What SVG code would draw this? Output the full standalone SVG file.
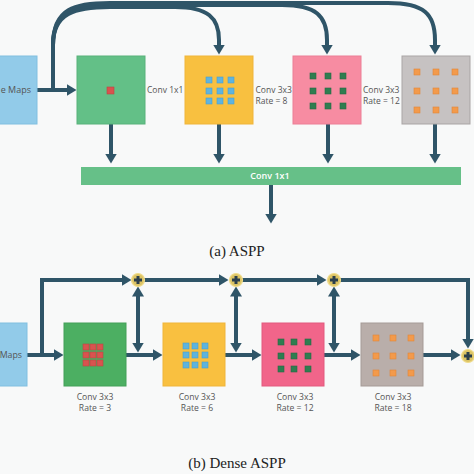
<svg xmlns="http://www.w3.org/2000/svg" width="474" height="474" viewBox="0 0 474 474">
<defs>
<style>
.ln{fill:none;stroke:#2f5568;stroke-width:4;stroke-linejoin:miter}
.lbl{font-family:"Open Sans","DejaVu Sans",sans-serif;font-size:8.5px;fill:#555}
.lbl2{font-family:"Open Sans","DejaVu Sans",sans-serif;font-size:8.6px;fill:#555;text-anchor:middle}
.cap{font-family:"Liberation Serif","Times New Roman",serif;font-size:15px;fill:#222;text-anchor:middle}
.plus{fill:#dcc465;stroke:#f0dc8c;stroke-width:1.2}
.pl{stroke:#2b3f4c;stroke-width:3}
.sq-r{fill:#d9534f;stroke:#b84642;stroke-width:0.6}
.sq-b{fill:#5fb4df;stroke:#4a9fcb;stroke-width:0.6}
.sq-g{fill:#2f7d50;stroke:#276a43;stroke-width:0.6}
.sq-o{fill:#f39a4b;stroke:#e0863a;stroke-width:0.6}
</style>
<marker id="ah" markerUnits="userSpaceOnUse" markerWidth="11" markerHeight="12" refX="0.5" refY="6" orient="auto-start-reverse">
<path d="M0,0 L10,6 L0,12 z" fill="#2f5568"/>
</marker>
</defs>
<rect width="474" height="474" fill="#f8f9f9"/>

<g id="connectors">
<!-- ASPP -->
<path class="ln" d="M37,90 H67" marker-end="url(#ah)"/>
<path class="ln" d="M53,92 V45 C53,13 75,7 110,7 H175 C208,7 219,18 219,40 V45" marker-end="url(#ah)"/>
<path class="ln" d="M53,92 V45 C53,10 75,5 110,5 H282 C316,5 327,16 327,40 V45" marker-end="url(#ah)"/>
<path class="ln" d="M53,92 V45 C53,8 75,3 110,3 H388 C424,3 435,14 435,40 V45" marker-end="url(#ah)"/>
<path class="ln" d="M111,124 V154" marker-end="url(#ah)"/>
<path class="ln" d="M219,124 V154" marker-end="url(#ah)"/>
<path class="ln" d="M328,124 V154" marker-end="url(#ah)"/>
<path class="ln" d="M435,124 V154" marker-end="url(#ah)"/>
<path class="ln" d="M271,185 V214" marker-end="url(#ah)"/>
<!-- Dense ASPP -->
<path class="ln" d="M27,355 H54" marker-end="url(#ah)"/>
<path class="ln" d="M42,357 V280 H122" marker-end="url(#ah)"/>
<path class="ln" d="M126,355 H153" marker-end="url(#ah)"/>
<path class="ln" d="M225,355 H252" marker-end="url(#ah)"/>
<path class="ln" d="M324,355 H351" marker-end="url(#ah)"/>
<path class="ln" d="M423,355 H451" marker-end="url(#ah)"/>
<path class="ln" d="M138,296 V343" marker-start="url(#ah)" marker-end="url(#ah)"/>
<path class="ln" d="M236,296 V343" marker-start="url(#ah)" marker-end="url(#ah)"/>
<path class="ln" d="M334,296 V343" marker-start="url(#ah)" marker-end="url(#ah)"/>
<path class="ln" d="M144,280 H219" marker-end="url(#ah)"/>
<path class="ln" d="M242,280 H317" marker-end="url(#ah)"/>
<path class="ln" d="M340,280 H468 V339" marker-end="url(#ah)"/>
</g>

<!-- ASPP nodes -->
<g id="a-input">
<rect x="-2" y="56" width="39" height="68" fill="#92cbe9" stroke="#80bfe0" stroke-width="1"/>
<text class="lbl" x="31" y="93" text-anchor="end" style="font-size:9px">e Maps</text>
</g>
<g id="a-conv1x1">
<rect x="77" y="56" width="68" height="68" fill="#63c087" stroke="#58b27b" stroke-width="1"/>
<rect class="sq-r" x="107" y="87" width="7" height="7" fill="#e06060"/>
<text class="lbl" x="147" y="93">Conv 1x1</text>
</g>
<g id="a-rate8">
<rect x="185" y="56" width="68" height="68" fill="#f8c040" stroke="#efb53a" stroke-width="1"/>
<g class="sq-b">
<rect x="206" y="77" width="6" height="6"/><rect x="217" y="77" width="6" height="6"/><rect x="228" y="77" width="6" height="6"/>
<rect x="206" y="88" width="6" height="6"/><rect x="217" y="88" width="6" height="6"/><rect x="228" y="88" width="6" height="6"/>
<rect x="206" y="98" width="6" height="6"/><rect x="217" y="98" width="6" height="6"/><rect x="228" y="98" width="6" height="6"/>
</g>
<text class="lbl" x="255.5" y="93">Conv 3x3</text>
<text class="lbl" x="255.5" y="104">Rate = 8</text>
</g>
<g id="a-rate12">
<rect x="293" y="56" width="68" height="68" fill="#f78ca2" stroke="#ec7f96" stroke-width="1"/>
<g class="sq-g">
<rect x="310" y="73" width="6" height="6"/><rect x="325" y="73" width="6" height="6"/><rect x="340" y="73" width="6" height="6"/>
<rect x="310" y="88" width="6" height="6"/><rect x="325" y="88" width="6" height="6"/><rect x="340" y="88" width="6" height="6"/>
<rect x="310" y="103" width="6" height="6"/><rect x="325" y="103" width="6" height="6"/><rect x="340" y="103" width="6" height="6"/>
</g>
<text class="lbl" x="363" y="93">Conv 3x3</text>
<text class="lbl" x="363" y="104">Rate = 12</text>
</g>
<g id="a-rate18">
<rect x="402" y="56" width="68" height="68" fill="#c6c2c2" stroke="#a9a5a5" stroke-width="1"/>
<g class="sq-o">
<rect x="414" y="69" width="6" height="6"/><rect x="433" y="69" width="6" height="6"/><rect x="452" y="69" width="6" height="6"/>
<rect x="414" y="88" width="6" height="6"/><rect x="433" y="88" width="6" height="6"/><rect x="452" y="88" width="6" height="6"/>
<rect x="414" y="107" width="6" height="6"/><rect x="433" y="107" width="6" height="6"/><rect x="452" y="107" width="6" height="6"/>
</g>
</g>
<g id="a-bar">
<rect x="81" y="167" width="380" height="18" fill="#66c088"/>
<text x="270" y="179" text-anchor="middle" style="font-family:'Open Sans','DejaVu Sans',sans-serif;font-size:9px;font-weight:600;fill:#ffffff">Conv 1x1</text>
</g>
<text id="cap-a" class="cap" x="237" y="256">(a) ASPP</text>

<!-- Dense ASPP nodes -->
<g id="b-input">
<rect x="-2" y="323" width="29" height="63" fill="#92cbe9" stroke="#80bfe0" stroke-width="1"/>
<text class="lbl" x="22" y="358" text-anchor="end" style="font-size:8.8px">Maps</text>
</g>
<g id="b-rate3">
<rect x="64" y="323" width="62" height="63" fill="#4caf62" stroke="#43a058" stroke-width="1"/>
<g class="sq-r">
<rect x="83" y="344" width="6" height="6"/><rect x="90" y="344" width="6" height="6"/><rect x="97" y="344" width="6" height="6"/>
<rect x="83" y="352" width="6" height="6"/><rect x="90" y="352" width="6" height="6"/><rect x="97" y="352" width="6" height="6"/>
<rect x="83" y="360" width="6" height="6"/><rect x="90" y="360" width="6" height="6"/><rect x="97" y="360" width="6" height="6"/>
</g>
<text class="lbl2" x="95" y="400">Conv 3x3</text>
<text class="lbl2" x="95" y="411">Rate = 3</text>
</g>
<g id="b-rate6">
<rect x="163" y="323" width="62" height="63" fill="#f9c040" stroke="#efb53a" stroke-width="1"/>
<g class="sq-b">
<rect x="183" y="343" width="6" height="6"/><rect x="192" y="343" width="6" height="6"/><rect x="202" y="343" width="6" height="6"/>
<rect x="183" y="352" width="6" height="6"/><rect x="192" y="352" width="6" height="6"/><rect x="202" y="352" width="6" height="6"/>
<rect x="183" y="362" width="6" height="6"/><rect x="192" y="362" width="6" height="6"/><rect x="202" y="362" width="6" height="6"/>
</g>
<text class="lbl2" x="197" y="400">Conv 3x3</text>
<text class="lbl2" x="197" y="411">Rate = 6</text>
</g>
<g id="b-rate12">
<rect x="262" y="323" width="62" height="63" fill="#f1658a" stroke="#e25a7e" stroke-width="1"/>
<g class="sq-g">
<rect x="278" y="339" width="6" height="6"/><rect x="291" y="339" width="6" height="6"/><rect x="305" y="339" width="6" height="6"/>
<rect x="278" y="353" width="6" height="6"/><rect x="291" y="353" width="6" height="6"/><rect x="305" y="353" width="6" height="6"/>
<rect x="278" y="366" width="6" height="6"/><rect x="291" y="366" width="6" height="6"/><rect x="305" y="366" width="6" height="6"/>
</g>
<text class="lbl2" x="295" y="400">Conv 3x3</text>
<text class="lbl2" x="295" y="411">Rate = 12</text>
</g>
<g id="b-rate18">
<rect x="361" y="323" width="62" height="63" fill="#b9aeaa" stroke="#a59b97" stroke-width="1"/>
<g class="sq-o">
<rect x="373" y="335" width="6" height="6"/><rect x="390" y="335" width="6" height="6"/><rect x="408" y="335" width="6" height="6"/>
<rect x="373" y="353" width="6" height="6"/><rect x="390" y="353" width="6" height="6"/><rect x="408" y="353" width="6" height="6"/>
<rect x="373" y="370" width="6" height="6"/><rect x="390" y="370" width="6" height="6"/><rect x="408" y="370" width="6" height="6"/>
</g>
<text class="lbl2" x="393" y="400">Conv 3x3</text>
<text class="lbl2" x="393" y="411">Rate = 18</text>
</g>
<g id="sum1"><circle class="plus" cx="138" cy="280" r="6.5"/><path class="pl" d="M134,280 H142 M138,276 V284"/></g>
<g id="sum2"><circle class="plus" cx="236" cy="280" r="6.5"/><path class="pl" d="M232,280 H240 M236,276 V284"/></g>
<g id="sum3"><circle class="plus" cx="334" cy="280" r="6.5"/><path class="pl" d="M330,280 H338 M334,276 V284"/></g>
<g id="sum4"><circle class="plus" cx="468" cy="356" r="6.5"/><path class="pl" d="M464,356 H472 M468,352 V360"/></g>
<text id="cap-b" class="cap" x="237" y="468">(b) Dense ASPP</text>
</svg>
